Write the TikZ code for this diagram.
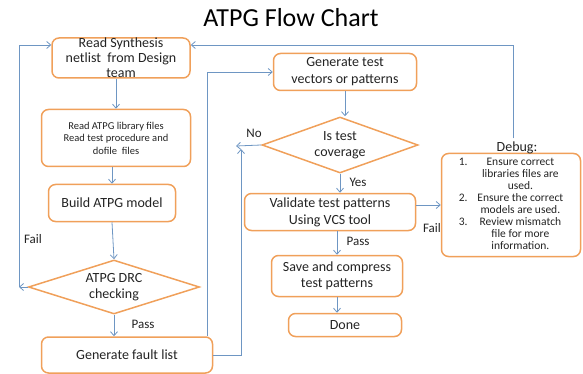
\documentclass[tikz,border=0pt]{standalone}
\usepackage{fontspec}
\setmainfont{Carlito}
\usetikzlibrary{shapes.geometric,arrows.meta}
\definecolor{boxorange}{RGB}{240,160,90}
\definecolor{linkblue}{RGB}{110,150,195}
\definecolor{txtgray}{RGB}{35,35,35}
\begin{document}
\begin{tikzpicture}[x=1pt,y=-1pt,
        box/.style={draw=boxorange,line width=1.5pt,rounded corners=7pt,align=center,inner sep=0pt,text=txtgray,font=\fontsize{14}{16}\selectfont},
        decide/.style={draw=boxorange,line width=1.5pt,diamond,aspect=3,align=center,inner sep=0pt,text=txtgray,font=\fontsize{14}{16}\selectfont},
        link/.style={draw=linkblue,line width=0.8pt,-{Straight Barb[length=4pt,width=7pt]}},
        lbl/.style={text=txtgray,font=\fontsize{13}{15}\selectfont}]
        \useasboundingbox (0,0) rectangle (583,374);
        \node [font=\fontsize{26}{30}\selectfont] (title) at (291,18) {ATPG Flow Chart};
        % left column
        \node [box,minimum width=138pt,minimum height=40pt,font=\fontsize{14}{15}\selectfont] (read) at (121,58) {Read Synthesis\\netlist\ \ from Design\\team};
        \node [box,minimum width=149pt,minimum height=57pt,font=\fontsize{10.5}{12.5}\selectfont] (lib) at (116,138) {Read ATPG library files\\Read test procedure and\\dofile\ \ files};
        \node [box,minimum width=127pt,minimum height=37pt] (build) at (112,203) {Build ATPG model};
        \node [decide,minimum width=171pt,minimum height=54pt] (drc) at (114,287) {ATPG DRC\\checking};
        \node [box,minimum width=171pt,minimum height=36pt] (fault) at (127,355) {Generate fault list};
        % right column
        \node [box,minimum width=143pt,minimum height=37pt,font=\fontsize{14}{17}\selectfont] (gen) at (345,72) {Generate test\\vectors or patterns};
        \node [decide,minimum width=156pt,minimum height=56pt] (cov) at (340,145) {Is test\\coverage};
        \node [box,minimum width=171pt,minimum height=37pt,font=\fontsize{14}{17}\selectfont] (valid) at (330,212) {Validate test patterns\\Using VCS tool};
        \node [box,minimum width=131pt,minimum height=41pt] (save) at (337,276) {Save and compress\\test patterns};
        \node [box,minimum width=113pt,minimum height=23pt] (done) at (345,325) {Done};
        \node [box,minimum width=139pt,minimum height=103pt,font=\fontsize{11.5}{12}\selectfont] (debug) at (511,205) {\begin{tabular}{@{}r@{\hspace{10pt}}c@{}}
            1. & Ensure correct\\ & libraries files are\\ & used.\\
            2. & Ensure the correct\\ & models are used.\\
            3. & Review mismatch\\ & file for more\\ & information.\end{tabular}};
        \node [text=txtgray,font=\fontsize{14}{16}\selectfont] (dbglabel) at (517,148) {Debug:};
        % labels
        \node [lbl] (faill) at (33,239) {Fail};
        \node [lbl] (passl) at (143,324) {Pass};
        \node [lbl] (nol) at (254,133) {No};
        \node [lbl] (yesl) at (358,182) {Yes};
        \node [lbl] (passr) at (358,241) {Pass};
        \node [lbl] (failr) at (432,228) {Fail};
        \coordinate (failend) at (19,287);
        \coordinate (noend) at (236,146);
        \coordinate (back) at (241,149);
        % connectors
        \draw [link] (lib.north |- read.south) -- (lib.north);
        \draw [link] (build.north |- lib.south) -- (build.north);
        \draw [link] (build.south) -- (drc.north);
        \draw [link] (drc.south) -- (drc.south |- fault.north);
        \draw [link] (drc.west) -- (failend);
        \draw [link] (failend) |- ([yshift=13pt]read.west);
        \draw [link] ([xshift=-6pt]fault.north east) |- (gen.west);
        \draw [link] (gen.south) -- (gen.south |- cov.north);
        \draw [link] (cov.west) -- (noend);
        \draw [link,{Straight Barb[length=4pt,width=7pt]}-] (back) |- (fault.east);
        \draw [link] (cov.south) -- (cov.south |- valid.north);
        \draw [link] ([yshift=7pt]valid.east) -- (debug.west);
        \draw [link] (save.north |- valid.south) -- (save.north);
        \draw [link] (save.south) -- (save.south |- done.north);
        \draw [link] ([xshift=-4pt]dbglabel.north) |- ([yshift=13pt]read.east);
    \end{tikzpicture}
\end{document}
